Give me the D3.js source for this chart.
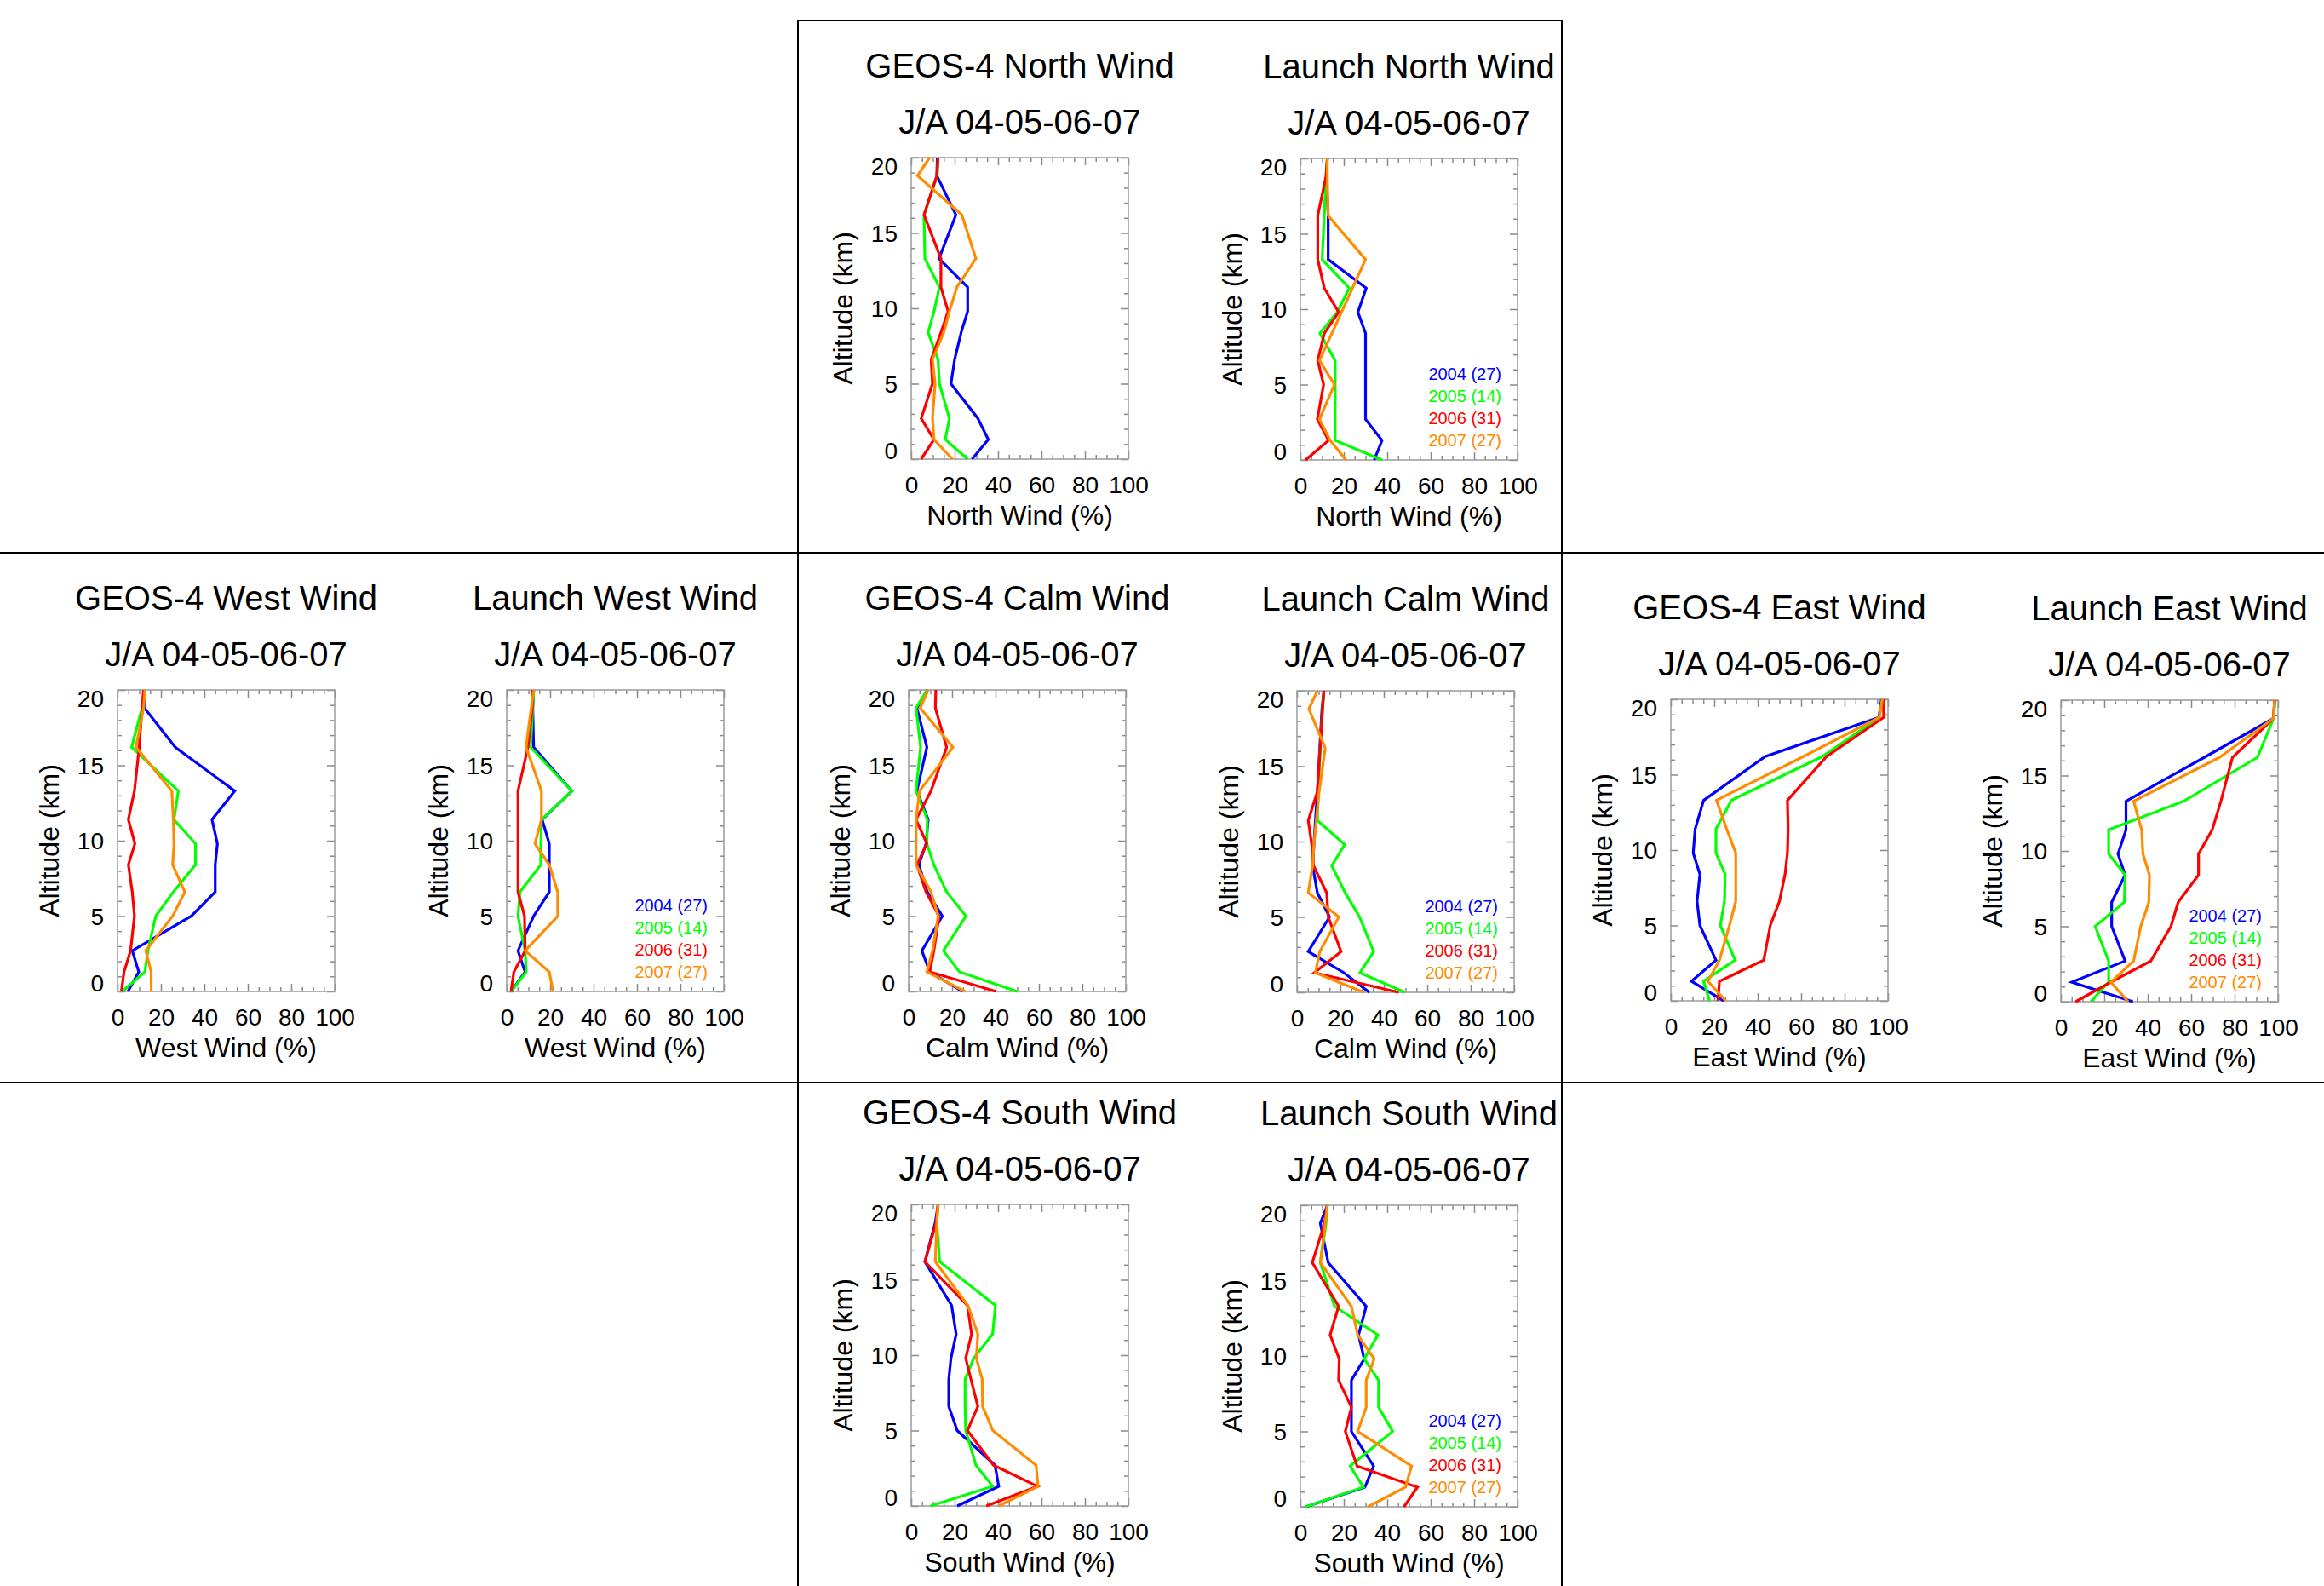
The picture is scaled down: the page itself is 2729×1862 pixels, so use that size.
<!DOCTYPE html>
<html>
<head>
<meta charset="utf-8">
<script src="https://cdn.jsdelivr.net/npm/d3@7"></script>
<style>
  body { margin: 0; background: #fff; }
  svg { display: block; }
  text { font-family: "Liberation Sans", Arial, Helvetica, sans-serif; fill: #000; }
</style>
</head>
<body>
<div id="root"></div>
<script>
const w = 2729, h = 1862;

// altitude levels (km), bottom to top
const altitudes = [0, 1.3, 2.7, 5, 6.6, 8.4, 9.8, 11.4, 13.3, 16.2, 18.8, 20];
const years = ["2004 (27)", "2005 (14)", "2006 (31)", "2007 (27)"];
const colors = ["#0000ff", "#00ff00", "#ff0000", "#ff8c00"];
const xTicks = [0, 20, 40, 60, 80, 100];
const yTicks = [0, 5, 10, 15, 20];
const subTitle = "J/A 04-05-06-07";

// % of profiles per altitude level, one row per year (2004, 2005, 2006, 2007)
const geosNorth = [
  [28, 35.5, 30.7, 18.3, 20, 23, 26, 26, 12.8, 20.6, 11.8, 12],
  [26, 15.7, 17.6, 13, 12.4, 7.8, 10.5, 13, 6.3, 5.9, 12, 12.4],
  [4.6, 10.5, 4.6, 9.8, 9.2, 13.7, 17, 13.7, 13.7, 5.9, 11.8, 12.4],
  [19, 10.5, 9.8, 11, 9.8, 15, 17.6, 21, 29.8, 23.3, 2.9, 8.5]
];
const launchNorth = [
  [34, 37.6, 30, 30, 30, 30, 26.5, 30.3, 12.8, 12.8, 12, 12.4],
  [37.6, 16, 16, 16, 16, 9, 17, 22.5, 10, 11, 11.8, 12.4],
  [2.4, 13, 7.8, 10.7, 8, 11, 17.6, 11, 8, 8, 11.8, 12.4],
  [21, 13.7, 8.8, 15.7, 8.8, 14.5, 18.9, 24, 30, 12.8, 12.4, 12.4]
];
const geosWest = [
  [4.8, 9.8, 6.8, 34, 45, 45, 46, 43.5, 54, 26.6, 12.4, 12.4],
  [2.2, 12.6, 14, 17.6, 25.7, 35.9, 35.9, 26, 28, 6.5, 11.3, 12.4],
  [1.8, 3, 6, 7.8, 6.8, 5, 8, 5, 7.8, 10, 11.3, 12],
  [15.5, 15.5, 13, 25.4, 31, 25.4, 26, 25.7, 25, 8.5, 12, 12.6]
];
const launchWest = [
  [2, 8.5, 5.2, 12.4, 19.6, 19.6, 19.6, 16.3, 30, 12.4, 12, 12.4],
  [2, 9, 8.5, 5.2, 6.1, 15.7, 15.7, 16, 30, 11, 12, 12.4],
  [2, 3.3, 8.5, 8.2, 5.2, 5.2, 5.2, 5.2, 5.2, 9.8, 11.8, 12],
  [21.3, 19.6, 8.5, 23.5, 23.5, 19.6, 13, 16, 16, 8.9, 11.3, 12.5]
];
const geosCalm = [
  [24.7, 9.7, 6.1, 15.5, 8.6, 4.7, 8, 9, 3.8, 8.4, 3.8, 8.6],
  [50, 23.4, 16, 26.4, 17.5, 11.6, 8.4, 8.6, 3.4, 5.5, 3.4, 8.6],
  [40.3, 9.7, 11.6, 14, 8, 3.8, 8.4, 3.4, 10.3, 17.5, 12.3, 12.5],
  [26, 8.4, 11, 13.6, 10.3, 3.4, 3.4, 3.4, 5, 20.4, 5.3, 9]
];
const launchCalm = [
  [33.3, 21.6, 5.2, 15, 9.4, 7.2, 7.8, 8.5, 9.4, 10.5, 11.5, 12.4],
  [49.7, 29, 35.3, 28.8, 22.2, 16, 22, 9.4, 9.8, 10.7, 11.8, 12.4],
  [46.8, 8, 20.3, 14.4, 13.7, 7.6, 6.8, 5.2, 9.4, 10.7, 11.8, 12.4],
  [30.7, 8.5, 10.5, 19.3, 5.2, 7.2, 7.8, 8.9, 10.2, 13, 5.5, 9.4]
];
const geosEast = [
  [24.3, 9.5, 20.8, 13.4, 12.1, 13.4, 10.3, 11.2, 15.1, 43.4, 95.8, 97],
  [17.8, 15.1, 29.6, 22.8, 24.7, 25, 20.8, 20.8, 27.9, 69.7, 96, 97.4],
  [21.7, 22.4, 42.8, 45.8, 50, 52.6, 53.7, 54, 53.7, 71.7, 98, 98],
  [25.3, 17.1, 22.4, 27, 29.9, 29.9, 29.9, 25.7, 21, 61, 96, 97.4]
];
const launchEast = [
  [33.2, 5, 29.6, 23.4, 23.4, 29.6, 26.3, 30, 30, 66, 98, 98.4],
  [13.8, 22, 22, 15.8, 29.2, 29.6, 22, 22, 56.6, 90.5, 98, 98.4],
  [6.8, 23, 41.4, 50.7, 54, 63.4, 63.4, 69.7, 73.7, 79, 98, 98.4],
  [31, 23, 33.5, 36.8, 40.5, 40.8, 37.8, 37.2, 33.5, 73, 98, 98.4]
];
const geosSouth = [
  [21.2, 40.3, 38.6, 21.2, 17.3, 17.3, 18.3, 20.7, 18.6, 6.3, 11.1, 12.4],
  [8.9, 37.5, 29.8, 25.1, 24.8, 24.8, 28.8, 37.5, 38.8, 13.1, 11.8, 12.4],
  [34.6, 58.2, 37.9, 25.9, 30.7, 27.5, 25.1, 27.8, 25.9, 6.3, 11.5, 12.4],
  [40.3, 58.4, 57.5, 37.6, 32.9, 32.7, 30, 30.7, 26.1, 11.1, 11.8, 12.4]
];
const launchSouth = [
  [2.5, 29.7, 33.7, 23.5, 23.5, 23.5, 29.4, 26.8, 30.3, 12.8, 9.2, 12.4],
  [2.4, 29, 22.9, 42.5, 36, 36, 29.4, 35.7, 15.7, 9.2, 11.8, 12.4],
  [47.7, 53.9, 26.1, 20.7, 23.5, 17.6, 17.9, 13.7, 17.6, 5.5, 11.1, 12.4],
  [31.1, 48.4, 51.2, 26.4, 30.3, 30.3, 34, 26.4, 23.5, 9.2, 11.5, 12.4]
];

// panel layout: plot-box top-left corners
const pw = 255, ph = 354;
const panels = [
  {title: "GEOS-4 North Wind", xlab: "North Wind (%)", data: geosNorth, x: 1070, y: 185},
  {title: "Launch North Wind", xlab: "North Wind (%)", data: launchNorth, x: 1527, y: 186, legend: true},
  {title: "GEOS-4 West Wind", xlab: "West Wind (%)", data: geosWest, x: 138, y: 810},
  {title: "Launch West Wind", xlab: "West Wind (%)", data: launchWest, x: 595, y: 810, legend: true},
  {title: "GEOS-4 Calm Wind", xlab: "Calm Wind (%)", data: geosCalm, x: 1067, y: 810},
  {title: "Launch Calm Wind", xlab: "Calm Wind (%)", data: launchCalm, x: 1523, y: 811, legend: true},
  {title: "GEOS-4 East Wind", xlab: "East Wind (%)", data: geosEast, x: 1962, y: 821},
  {title: "Launch East Wind", xlab: "East Wind (%)", data: launchEast, x: 2420, y: 822, legend: true},
  {title: "GEOS-4 South Wind", xlab: "South Wind (%)", data: geosSouth, x: 1070, y: 1414},
  {title: "Launch South Wind", xlab: "South Wind (%)", data: launchSouth, x: 1527, y: 1415, legend: true}
];

const svg = d3.select("#root").append("svg")
  .attr("width", w)
  .attr("height", h);

svg.append("rect").attr("width", w).attr("height", h).attr("fill", "#fff");

// separator lines
const vx1 = 937, vx2 = 1834, topY = 24, hy1 = 649, hy2 = 1271;
const sep = svg.append("g").attr("stroke", "#000").attr("stroke-width", 2);
sep.append("line").attr("x1", vx1).attr("x2", vx2).attr("y1", topY).attr("y2", topY);
sep.append("line").attr("x1", vx1).attr("x2", vx1).attr("y1", topY).attr("y2", h);
sep.append("line").attr("x1", vx2).attr("x2", vx2).attr("y1", topY).attr("y2", h);
sep.append("line").attr("x1", 0).attr("x2", w).attr("y1", hy1).attr("y2", hy1);
sep.append("line").attr("x1", 0).attr("x2", w).attr("y1", hy2).attr("y2", hy2);

const xScale = d3.scaleLinear().domain([0, 100]).range([0, pw]);
const yScale = d3.scaleLinear().domain([0, 20]).range([ph, 0]);
const xMinor = d3.range(0, 101, 5).filter(d => d % 20 !== 0);
const yMinor = d3.range(0, 21, 1).filter(d => d % 5 !== 0);

const line = d3.line()
  .x(d => xScale(d[0]))
  .y(d => yScale(d[1]));

panels.forEach(p => {
  const g = svg.append("g").attr("transform", "translate(" + p.x + "," + p.y + ")");

  // titles
  g.append("text")
    .attr("x", pw / 2).attr("y", -94)
    .attr("text-anchor", "middle")
    .style("font-size", "40px")
    .text(p.title);
  g.append("text")
    .attr("x", pw / 2).attr("y", -28)
    .attr("text-anchor", "middle")
    .style("font-size", "40px")
    .text(subTitle);

  // axes (ticks pointing inward, IDL style)
  const styleAxis = sel => {
    sel.select(".domain").remove();
    sel.selectAll(".tick line").attr("stroke", "#8a8a8a").attr("stroke-width", 1.5);
    sel.selectAll(".tick text").style("font-size", "28px").attr("fill", "#000");
  };

  g.append("g").attr("transform", "translate(0," + ph + ")")
    .call(d3.axisBottom(xScale).tickValues(xTicks).tickSize(-9).tickPadding(20).tickFormat(d3.format("d")))
    .call(styleAxis);
  g.append("g").attr("transform", "translate(0," + ph + ")")
    .call(d3.axisBottom(xScale).tickValues(xMinor).tickSize(-5).tickFormat(""))
    .call(styleAxis);
  g.append("g")
    .call(d3.axisTop(xScale).tickValues(xTicks).tickSize(-9).tickFormat(""))
    .call(styleAxis);
  g.append("g")
    .call(d3.axisTop(xScale).tickValues(xMinor).tickSize(-5).tickFormat(""))
    .call(styleAxis);

  const yl = g.append("g")
    .call(d3.axisLeft(yScale).tickValues(yTicks).tickSize(-9).tickPadding(16).tickFormat(d3.format("d")))
    .call(styleAxis);
  yl.selectAll(".tick text")
    .attr("dy", d => d === 20 ? "0.68em" : d === 0 ? "-0.02em" : "0.34em");
  g.append("g")
    .call(d3.axisLeft(yScale).tickValues(yMinor).tickSize(-5).tickFormat(""))
    .call(styleAxis);
  g.append("g").attr("transform", "translate(" + pw + ",0)")
    .call(d3.axisRight(yScale).tickValues(yTicks).tickSize(-9).tickFormat(""))
    .call(styleAxis);
  g.append("g").attr("transform", "translate(" + pw + ",0)")
    .call(d3.axisRight(yScale).tickValues(yMinor).tickSize(-5).tickFormat(""))
    .call(styleAxis);

  // frame
  g.append("rect")
    .attr("width", pw).attr("height", ph)
    .attr("fill", "none")
    .attr("stroke", "#9a9a9a")
    .attr("stroke-width", 1.5);

  // axis titles
  g.append("text")
    .attr("x", pw / 2).attr("y", ph + 77)
    .attr("text-anchor", "middle")
    .style("font-size", "32px")
    .text(p.xlab);
  g.append("text")
    .attr("transform", "translate(-69," + (ph / 2) + ") rotate(-90)")
    .attr("text-anchor", "middle")
    .style("font-size", "32px")
    .text("Altitude (km)");

  // profiles
  g.append("g")
    .selectAll("path")
    .data(p.data)
    .enter()
    .append("path")
    .attr("d", vals => line(vals.map((v, i) => [v, altitudes[i]])))
    .attr("fill", "none")
    .attr("stroke", (d, i) => colors[i])
    .attr("stroke-width", 3.2)
    .attr("stroke-linejoin", "miter");

  if (p.legend) {
    g.append("g")
      .selectAll("text")
      .data(years)
      .enter()
      .append("text")
      .attr("x", pw - 19)
      .attr("y", (d, i) => ph - 94 + i * 26)
      .attr("text-anchor", "end")
      .style("font-size", "20px")
      .style("fill", (d, i) => colors[i])
      .text(d => d);
  }
});
</script>
</body>
</html>
